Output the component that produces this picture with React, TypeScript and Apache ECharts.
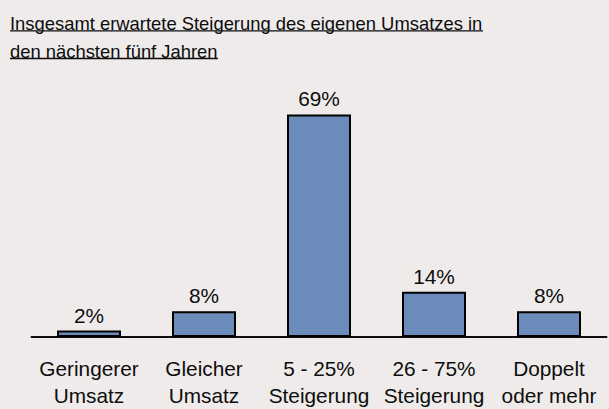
import React, { useEffect, useRef } from "react";
import * as echarts from "echarts";

const categories = [
  "Geringerer\nUmsatz",
  "Gleicher\nUmsatz",
  "5 - 25%\nSteigerung",
  "26 - 75%\nSteigerung",
  "Doppelt\noder mehr",
];
const values = [2, 8, 69, 14, 8];
const titleText = "Insgesamt erwartete Steigerung des eigenen Umsatzes in\nden nächsten fünf Jahren";

const FONT = "'Liberation Sans', Arial, Helvetica, sans-serif";
const INK = "#0d0d0d";

export default function App() {
  const ref = useRef<HTMLDivElement>(null);
  useEffect(() => {
    document.body.style.margin = "0";
    const chart = echarts.init(ref.current!, null, { renderer: "svg" });
    chart.setOption({
      animation: false,
      backgroundColor: "#EEEBEA",
      title: {
        text: titleText,
        left: 10,
        top: 9,
        padding: 0,
        textStyle: {
          fontFamily: FONT,
          fontSize: 18.4,
          fontWeight: "normal",
          color: INK,
          lineHeight: 28,
        },
      },
      graphic: [
        { type: "line", shape: { x1: 10, y1: 30.8, x2: 483, y2: 30.8 }, style: { stroke: INK, lineWidth: 1.3 } },
        { type: "line", shape: { x1: 10, y1: 58.5, x2: 218, y2: 58.5 }, style: { stroke: INK, lineWidth: 1.3 } },
      ],
      grid: { left: 31.5, right: 2.5, top: 78.9, bottom: 70.5 },
      xAxis: {
        type: "category",
        data: categories,
        axisLine: { show: true, lineStyle: { color: INK, width: 2 } },
        axisTick: { show: false },
        axisLabel: {
          interval: 0,
          margin: 18,
          fontFamily: FONT,
          fontSize: 20.8,
          lineHeight: 27,
          color: INK,
        },
      },
      yAxis: {
        type: "value",
        min: 0,
        max: 80,
        show: false,
        splitLine: { show: false },
      },
      series: [
        {
          type: "bar",
          data: values,
          barWidth: 64,
          itemStyle: { color: "#6B8CBA", borderColor: "#000", borderWidth: 2 },
          label: {
            show: true,
            position: "top",
            distance: 5,
            formatter: "{c}%",
            fontFamily: FONT,
            fontSize: 20.8,
            color: INK,
          },
        },
      ],
    });
    return () => chart.dispose();
  }, []);
  return <div ref={ref} style={{ width: 609, height: 409 }} />;
}
